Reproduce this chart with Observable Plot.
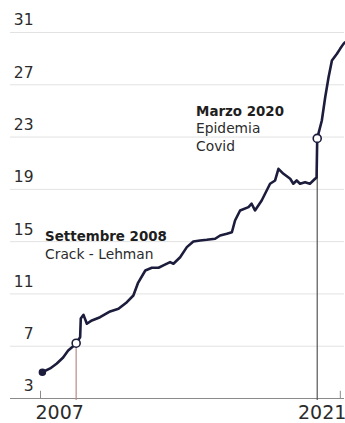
<!DOCTYPE html>
<html>
<head>
<meta charset="utf-8">
<script src="https://cdn.jsdelivr.net/npm/d3@7"></script>
<script src="https://cdn.jsdelivr.net/npm/@observablehq/plot@0.6"></script>
<style>
  html, body { margin: 0; padding: 0; background: #fff; }
  #chart svg { display: block; }
</style>
</head>
<body>
<div id="chart"></div>
<script>
// Series: decimal year and value
const years = [
  2007.09, 2007.46, 2007.78, 2008.08, 2008.32, 2008.56, 2008.70, 2008.89, 2008.92, 2009.05,
  2009.21, 2009.45, 2009.84, 2010.32, 2010.72, 2011.12, 2011.43, 2011.66, 2012.00, 2012.31,
  2012.63, 2012.86, 2013.18, 2013.34, 2013.66, 2013.98, 2014.29, 2014.61, 2014.93, 2015.33,
  2015.57, 2015.89, 2016.13, 2016.28, 2016.52, 2016.92, 2017.07, 2017.23, 2017.55, 2017.95,
  2018.19, 2018.35, 2018.59, 2018.91, 2019.06, 2019.22, 2019.38, 2019.62, 2019.85, 2020.10,
  2020.17, 2020.20, 2020.42, 2020.58, 2020.74, 2020.90, 2021.14, 2021.29, 2021.45, 2021.53
];
const values = [
  5.01, 5.30, 5.68, 6.14, 6.67, 7.00, 7.23, 7.69, 9.12, 9.40,
  8.72, 8.97, 9.22, 9.66, 9.86, 10.37, 10.88, 11.87, 12.79, 13.00,
  13.00, 13.18, 13.43, 13.31, 13.81, 14.58, 15.01, 15.09, 15.14, 15.22,
  15.47, 15.60, 15.72, 16.62, 17.38, 17.64, 17.90, 17.39, 18.15, 19.43,
  19.68, 20.57, 20.19, 19.81, 19.43, 19.68, 19.43, 19.55, 19.43, 19.81,
  19.90, 22.90, 24.27, 26.05, 27.58, 28.86, 29.37, 29.75, 30.13, 30.25
];

// Events
const eventDates = [2008.70, 2020.20];
const eventValues = [7.23, 22.90];
const eventColors = ["#b98a8a", "#555555"];
const eventTitles = ["Settembre 2008", "Marzo 2020"];
const eventNotes = ["Crack - Lehman", "Epidemia\nCovid"];
const titleX = [2007.22, 2014.42];
const titleY = [15.04, 24.65];
const noteY = [13.69, 21.97];

// Axes
const yTicks = [3, 7, 11, 15, 19, 23, 27, 31];
const gridTicks = [7, 11, 15, 19, 23, 27, 31];
const xTickYears = [2007.0, 2021.3];
const xTickLabels = ["2007", "2021"];
const xDomain = [2007.0, 2021.5];

const toDate = y => {
  const yr = Math.floor(y);
  const start = new Date(yr, 0, 1), end = new Date(yr + 1, 0, 1);
  return new Date(+start + (y - yr) * (end - start));
};

const series = years.map((y, i) => ({date: toDate(y), value: values[i]}));
const events = eventDates.map((d, i) => ({
  date: toDate(d), value: eventValues[i], color: eventColors[i],
  title: eventTitles[i], note: eventNotes[i],
  tx: toDate(titleX[i]), ty: titleY[i], ny: noteY[i]
}));
const xTicks = xTickYears.map((y, i) => ({date: toDate(y), label: xTickLabels[i], anchor: i === 0 ? "start" : "end"}));

const font = "'DejaVu Sans', Verdana, sans-serif";

const chart = Plot.plot({
  width: 345,
  height: 423,
  marginLeft: 40,
  marginRight: 1,
  marginTop: 32,
  marginBottom: 25,
  style: {fontFamily: font, background: "#fff", color: "#222"},
  x: {type: "time", domain: xDomain.map(toDate), axis: null},
  y: {domain: [3, 31], axis: null},
  marks: [
    Plot.ruleY(gridTicks, {stroke: "#e2e2e2", strokeWidth: 1, insetLeft: -30}),
    Plot.axisY(yTicks, {tickSize: 0, tickPadding: 7, dy: -12, fontSize: 15.5, fill: "#2b2b2b"}),
    Plot.ruleY([3], {stroke: "#8a8a8a", strokeWidth: 1, insetLeft: -30}),
    Plot.ruleX(xTicks, {x: "date", y1: 3, y2: 3.55, stroke: "#8a8a8a", strokeWidth: 1}),
    Plot.text(xTicks.filter(d => d.anchor === "start"), {x: "date", y: 3, text: "label", textAnchor: "start", dx: -5, dy: 20, lineAnchor: "bottom", fontSize: 19, fill: "#2b2b2b"}),
    Plot.text(xTicks.filter(d => d.anchor === "end"), {x: "date", y: 3, text: "label", textAnchor: "end", dx: 6, dy: 20, lineAnchor: "bottom", fontSize: 19, fill: "#2b2b2b"}),
    Plot.ruleX(events, {x: "date", y1: 2.85, y2: "value", stroke: "color", strokeWidth: 1.2}),
    Plot.line(series, {x: "date", y: "value", stroke: "#1c1c3c", strokeWidth: 2.6, strokeLinejoin: "round", strokeLinecap: "round"}),
    Plot.dot(series.slice(0, 1), {x: "date", y: "value", r: 3, fill: "#1c1c3c", stroke: "#1c1c3c"}),
    Plot.dot(events, {x: "date", y: "value", r: 4, fill: "#fff", stroke: "#1c1c3c", strokeWidth: 1.6}),
    Plot.text(events, {x: "tx", y: "ty", text: "title", textAnchor: "start", lineAnchor: "bottom", fontSize: 13.4, fontWeight: "bold", fill: "#1e1e1e"}),
    Plot.text(events, {x: "tx", y: "ny", text: "note", textAnchor: "start", lineAnchor: "bottom", fontSize: 13.8, lineHeight: 1.27, fill: "#2b2b2b"})
  ]
});

document.getElementById("chart").appendChild(chart);
</script>
</body>
</html>
